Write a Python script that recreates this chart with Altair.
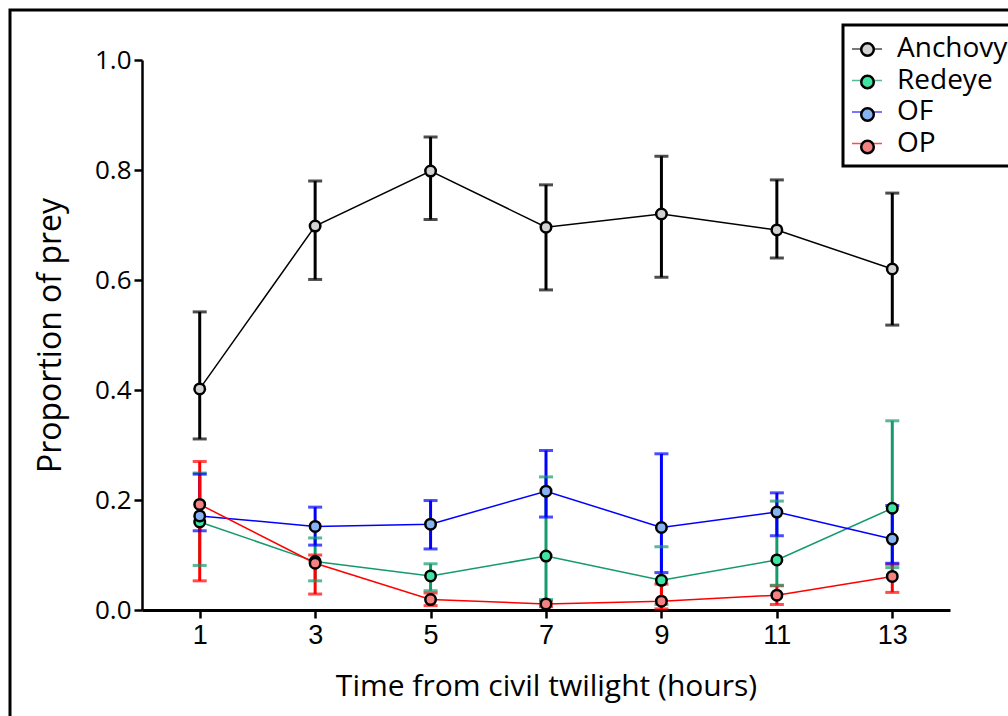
import altair as alt
import pandas as pd

times = [1, 3, 5, 7, 9, 11, 13]
names = ["Anchovy", "Redeye", "OF", "OP"]

anchovy_mean = [0.402, 0.698, 0.798, 0.696, 0.720, 0.691, 0.620]
anchovy_hi = [0.542, 0.780, 0.860, 0.773, 0.825, 0.782, 0.758]
anchovy_lo = [0.311, 0.601, 0.710, 0.582, 0.605, 0.640, 0.518]

redeye_mean = [0.160, 0.088, 0.062, 0.098, 0.054, 0.091, 0.185]
redeye_hi = [0.249, 0.131, 0.084, 0.242, 0.115, 0.198, 0.344]
redeye_lo = [0.081, 0.053, 0.035, 0.019, 0.010, 0.045, 0.077]

of_mean = [0.171, 0.152, 0.156, 0.216, 0.150, 0.178, 0.129]
of_hi = [0.247, 0.187, 0.199, 0.290, 0.284, 0.213, 0.190]
of_lo = [0.144, 0.118, 0.111, 0.169, 0.068, 0.135, 0.085]

op_mean = [0.192, 0.085, 0.019, 0.011, 0.016, 0.027, 0.061]
op_hi = [0.270, 0.100, 0.031, 0.016, 0.047, 0.044, 0.083]
op_lo = [0.053, 0.029, 0.008, 0.006, 0.002, 0.010, 0.032]

line_colors = ["#000000", "#159a6c", "#0000ff", "#ff0000"]
fill_colors = ["#d2d2d2", "#3fe6a2", "#86b4f2", "#f48282"]

series = {
    "Anchovy": (anchovy_mean, anchovy_lo, anchovy_hi),
    "Redeye": (redeye_mean, redeye_lo, redeye_hi),
    "OF": (of_mean, of_lo, of_hi),
    "OP": (op_mean, op_lo, op_hi),
}
# second key for the marker-fill legend (kept distinct so the two legends stay separate)
fill_keys = [n + " marker" for n in names]

rows = []
for name, fkey in zip(names, fill_keys):
    m, lo, hi = series[name]
    for t, a, b, c in zip(times, m, lo, hi):
        rows.append({"series": name, "series2": fkey, "time": t,
                     "mean": a, "lo": b, "hi": c})
df = pd.DataFrame(rows)

LINE_PATH = "M-1,0H-0.32M0.32,0H1"
CIRCLE_PATH = "M-0.42,0A0.42,0.42 0 1,0 0.42,0A0.42,0.42 0 1,0 -0.42,0Z"

x_axis = alt.Axis(values=times, format="d", title="Time from civil twilight (hours)",
                  labelFont="Liberation Sans", labelFontSize=27,
                  labelPadding=4, tickSize=8, tickWidth=2.5,
                  domainWidth=3, titlePadding=23)
y_axis = alt.Axis(values=[0, 0.2, 0.4, 0.6, 0.8, 1.0], format=".1f",
                  title="Proportion of prey", titleFontSize=32,
                  labelFont="Open Sans", labelFontSize=26, labelPadding=3, tickSize=8,
                  tickWidth=2.5, domainWidth=2.5, titlePadding=27)
x_scale = alt.Scale(domain=[0, 14], nice=False)
y_scale = alt.Scale(domain=[0, 1], nice=False)


def X(field):
    return alt.X(field, scale=x_scale, axis=x_axis)


def Y(field):
    return alt.Y(field, scale=y_scale, axis=y_axis)


LEG_X, LEG_Y = 701, -35
color_enc = alt.Color("series:N", scale=alt.Scale(domain=names, range=line_colors),
                      legend=alt.Legend(title=None, orient="none", legendX=LEG_X, legendY=LEG_Y,
                                        symbolType=LINE_PATH, symbolSize=900,
                                        symbolStrokeWidth=1.5, labelFontSize=28,
                                        labelOffset=14, strokeColor="black",
                                        padding=8, rowPadding=1.5))
fill_enc = alt.Fill("series2:N", scale=alt.Scale(domain=fill_keys, range=fill_colors),
                    legend=alt.Legend(title=None, orient="none", legendX=LEG_X, legendY=LEG_Y,
                                      symbolType=CIRCLE_PATH, symbolSize=900,
                                      symbolStrokeColor="black", symbolStrokeWidth=2.5,
                                      labelFontSize=28, labelOffset=14, labelExpr="''",
                                      padding=8, rowPadding=1.5))

base = alt.Chart(df)

frame = alt.Chart(alt.Data(values=[{}])).mark_rect(
    fillOpacity=0, stroke="black", strokeWidth=3
).encode(x=alt.value(-132), x2=alt.value(1100), y=alt.value(-50), y2=alt.value(800))

lines = base.mark_line(strokeWidth=1.5).encode(x=X("time:Q"), y=Y("mean:Q"), color=color_enc)
rules = base.mark_rule(strokeWidth=3).encode(x=X("time:Q"), y=Y("lo:Q"), y2="hi:Q",
                                             color=color_enc)
caps_hi = base.mark_tick(orient="horizontal", size=14, thickness=3).encode(
    x=X("time:Q"), y=Y("hi:Q"), color=color_enc)
caps_lo = base.mark_tick(orient="horizontal", size=14, thickness=3).encode(
    x=X("time:Q"), y=Y("lo:Q"), color=color_enc)
points = base.mark_point(shape="circle", size=110, stroke="black", strokeWidth=2.5,
                         opacity=1, fillOpacity=1).encode(
    x=X("time:Q"), y=Y("mean:Q"), fill=fill_enc)

chart = alt.layer(frame, lines, rules, caps_hi, caps_lo, points).properties(
    width=808, height=550,
    autosize=alt.AutoSizeParams(type="none"),
    padding={"left": 142, "top": 60, "right": 58, "bottom": 106},
    background="white",
).configure_view(stroke=None).configure_axis(
    titleFont="Open Sans", titleFontWeight="normal",
    labelColor="black", titleColor="black", tickColor="black", domainColor="black",
    grid=False, titleFontSize=30,
).configure_legend(labelFont="Open Sans", labelColor="black", strokeWidth=3)

chart.save("out.html", embed_options={"renderer": "svg", "actions": False})
